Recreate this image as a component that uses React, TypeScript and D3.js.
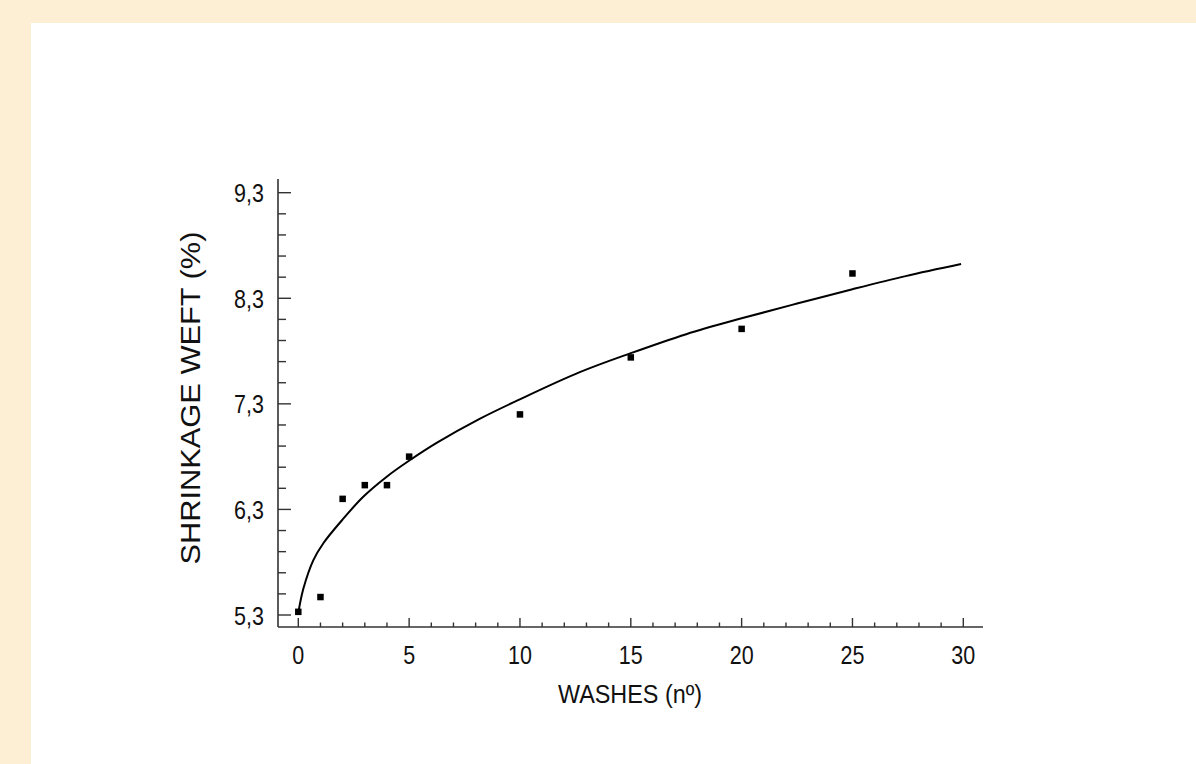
import React from "react";
import * as d3 from "d3";

// Observed data (washes vs weft shrinkage %)
const washes = [0, 1, 2, 3, 4, 5, 10, 15, 20, 25];
const shrinkage = [5.33, 5.47, 6.4, 6.53, 6.53, 6.8, 7.2, 7.74, 8.01, 8.535];

// Fitted curve
const curveX = [0, 0.23, 0.68, 1.13, 1.98, 2.93, 3.99, 4.96, 6.24, 8.2, 9.97, 12.7, 15, 17.5, 20, 22.5, 25, 27.4, 29.9];
const curveY = [5.32, 5.55, 5.82, 5.98, 6.2, 6.42, 6.61, 6.756, 6.93, 7.16, 7.34, 7.6, 7.78, 7.96, 8.11, 8.25, 8.386, 8.51, 8.624];

const xMajor = [0, 5, 10, 15, 20, 25, 30];
const yMajor = [5.3, 6.3, 7.3, 8.3, 9.3];
const yLabels = ["5,3", "6,3", "7,3", "8,3", "9,3"];
const xTitle = "WASHES (nº)";
const yTitle = "SHRINKAGE WEFT (%)";

export default function App() {
  const W = 1196, H = 764;
  const x = d3.scaleLinear().domain([0, 30]).range([298.3, 963.3]);
  const y = d3.scaleLinear().domain([5.3, 9.3]).range([615, 192.7]);
  const axisX = 278, axisY = 627;
  const xMinor = d3.range(0, 31, 1);
  const yMinor = d3.range(0, 21).map((i) => 5.3 + i * 0.2);

  const line = d3
    .line<number>()
    .x((_, i) => x(curveX[i]))
    .y((d) => y(d))
    .curve(d3.curveCatmullRom.alpha(0.5));

  const font = "Arial, 'Liberation Sans', Helvetica, sans-serif";
  const sq = 6.5;

  return (
    <svg
      width={W}
      height={H}
      style={{ position: "absolute", left: 0, top: 0, display: "block" }}
    >
      <rect x={0} y={0} width={W} height={H} fill="#fcefd4" />
      <rect x={31} y={23} width={W - 31} height={H - 23} fill="#ffffff" />

      {/* axes */}
      <line x1={axisX} y1={179} x2={axisX} y2={axisY} stroke="#333" strokeWidth={1.6} />
      <line x1={axisX} y1={axisY} x2={983} y2={axisY} stroke="#333" strokeWidth={1.6} />

      {/* y ticks */}
      {yMinor.map((v, i) => (
        <line
          key={"ym" + i}
          x1={axisX}
          x2={axisX + (i % 5 === 0 ? 13 : 8)}
          y1={y(v)}
          y2={y(v)}
          stroke="#333"
          strokeWidth={1.4}
        />
      ))}
      {yMajor.map((v, i) => (
        <text
          key={"yl" + i}
          transform={`translate(264,${y(v) + 9.5}) scale(1,1.22)`}
          textAnchor="end"
          fontFamily={font}
          fontSize={21.5}
          fill="#111"
        >
          {yLabels[i]}
        </text>
      ))}

      {/* x ticks */}
      {xMinor.map((v) => (
        <line
          key={"xm" + v}
          x1={x(v)}
          x2={x(v)}
          y1={axisY}
          y2={axisY - (v % 5 === 0 ? 9 : 4.5)}
          stroke="#333"
          strokeWidth={1.4}
        />
      ))}
      {xMajor.map((v) => (
        <text
          key={"xl" + v}
          transform={`translate(${x(v)},664) scale(1,1.22)`}
          textAnchor="middle"
          fontFamily={font}
          fontSize={21.5}
          fill="#111"
        >
          {v}
        </text>
      ))}

      {/* titles */}
      <text
        transform="translate(630,703) scale(1,1.13)"
        textAnchor="middle"
        fontFamily={font}
        fontSize={23.4}
        fill="#111"
      >
        {xTitle}
      </text>
      <text
        transform="translate(200,398) rotate(-90)"
        textAnchor="middle"
        fontFamily={font}
        fontSize={27}
        textLength={333}
        lengthAdjust="spacingAndGlyphs"
        fill="#111"
      >
        {yTitle}
      </text>

      {/* fitted curve */}
      <path d={line(curveY) || ""} fill="none" stroke="#000" strokeWidth={2} />

      {/* observed points */}
      {washes.map((w, i) => (
        <rect
          key={"p" + i}
          x={x(w) - sq / 2}
          y={y(shrinkage[i]) - sq / 2}
          width={sq}
          height={sq}
          fill="#000"
        />
      ))}
    </svg>
  );
}
